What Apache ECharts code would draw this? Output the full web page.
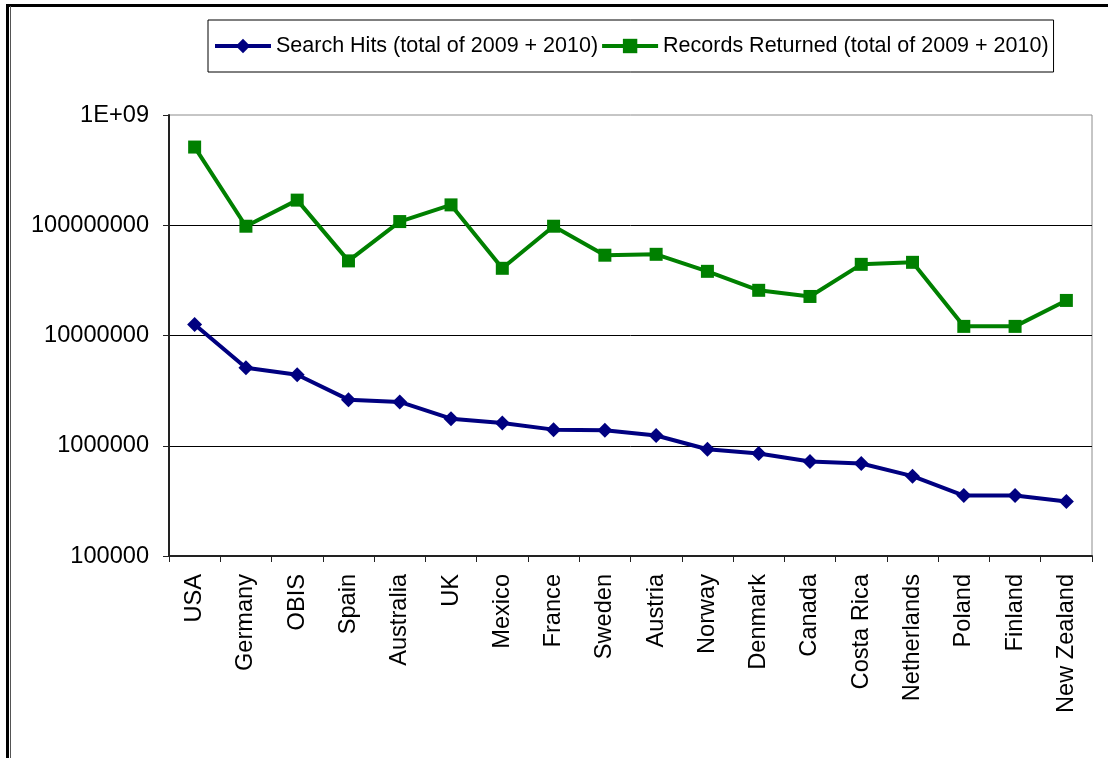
<!DOCTYPE html>
<html>
<head>
<meta charset="utf-8">
<script src="https://cdn.jsdelivr.net/npm/echarts@6/dist/echarts.min.js"></script>
<style>
  html, body { margin: 0; padding: 0; background: #fff; }
  #chart { width: 1108px; height: 758px; }
</style>
</head>
<body>
<div id="chart"></div>
<script>
// Categories along the x axis
const categories = ['USA', 'Germany', 'OBIS', 'Spain', 'Australia', 'UK', 'Mexico', 'France',
  'Sweden', 'Austria', 'Norway', 'Denmark', 'Canada', 'Costa Rica', 'Netherlands',
  'Poland', 'Finland', 'New Zealand'];

// Search hits, total of 2009 + 2010
const searchHits = [12600000, 5100000, 4400000, 2620000, 2500000, 1760000, 1610000, 1400000,
  1380000, 1240000, 930000, 850000, 720000, 690000, 530000, 353000, 353000, 312000];

// Records returned, total of 2009 + 2010
const recordsReturned = [512000000, 98000000, 169000000, 47500000, 108000000, 153000000, 40700000, 98000000,
  53500000, 54500000, 38200000, 25700000, 22600000, 44200000, 46100000, 12100000, 12100000, 20800000];

// Tick labels for the log axis, one per decade from 1e5 to 1e9
const yTickLabels = ['100000', '1000000', '10000000', '100000000', '1E+09'];

const seriesNames = ['Search Hits (total of 2009 + 2010)', 'Records Returned (total of 2009 + 2010)'];

const FONT = "'Liberation Sans', Arial, sans-serif";

const chart = echarts.init(document.getElementById('chart'), null, { renderer: 'canvas' });

chart.setOption({
  animation: false,
  backgroundColor: '#fff',
  textStyle: { fontFamily: FONT, color: '#000' },
  legend: {
    data: seriesNames,
    left: 208,
    top: 20,
    orient: 'horizontal',
    padding: [15, 5, 15, 5],
    itemGap: 2,
    itemWidth: 56,
    itemHeight: 18,
    borderColor: '#000',
    borderWidth: 1,
    lineStyle: { width: 4 },
    textStyle: { fontSize: 21.5, fontFamily: FONT, color: '#000' }
  },
  grid: {
    left: 169,
    right: 16,
    top: 115,
    bottom: 202,
    show: true,
    borderColor: '#8c8c8c',
    borderWidth: 1,
    containLabel: false
  },
  xAxis: {
    type: 'category',
    data: categories,
    boundaryGap: true,
    axisLine: { show: true, lineStyle: { color: '#222', width: 2 } },
    axisTick: { show: true, length: 6, interval: 0, lineStyle: { color: '#222', width: 1 } },
    axisLabel: {
      interval: 0,
      rotate: 90,
      margin: 18,
      fontSize: 23.6,
      fontFamily: FONT,
      color: '#000'
    },
    splitLine: { show: false }
  },
  yAxis: {
    type: 'log',
    logBase: 10,
    min: 100000,
    max: 1000000000,
    axisLine: { show: true, lineStyle: { color: '#222', width: 2 } },
    axisTick: { show: true, length: 6, lineStyle: { color: '#222', width: 1 } },
    axisLabel: {
      margin: 20,
      fontSize: 23.6,
      fontFamily: FONT,
      color: '#000',
      formatter: function (v) {
        const idx = Math.round(Math.log10(v)) - 5;
        return yTickLabels[idx] !== undefined ? yTickLabels[idx] : '';
      }
    },
    splitLine: { show: true, showMinLine: false, showMaxLine: false, lineStyle: { color: '#000', width: 1 } },
    minorTick: { show: false }
  },
  graphic: [
    // Outer frame: heavy top rule and a double rule down the left side
    { type: 'rect', shape: { x: 6, y: 4, width: 1102, height: 3 }, style: { fill: '#000' }, silent: true },
    { type: 'rect', shape: { x: 6, y: 4, width: 3, height: 754 }, style: { fill: '#000' }, silent: true },
    { type: 'rect', shape: { x: 10, y: 6, width: 1, height: 752 }, style: { fill: '#555' }, silent: true }
  ],
  series: [
    {
      name: seriesNames[0],
      type: 'line',
      data: searchHits,
      symbol: 'diamond',
      symbolSize: 15,
      itemStyle: { color: '#000080' },
      lineStyle: { color: '#000080', width: 4 },
      z: 3
    },
    {
      name: seriesNames[1],
      type: 'line',
      data: recordsReturned,
      symbol: 'rect',
      symbolSize: 13,
      itemStyle: { color: '#008000' },
      lineStyle: { color: '#008000', width: 4 },
      z: 3
    }
  ]
});
</script>
</body>
</html>
